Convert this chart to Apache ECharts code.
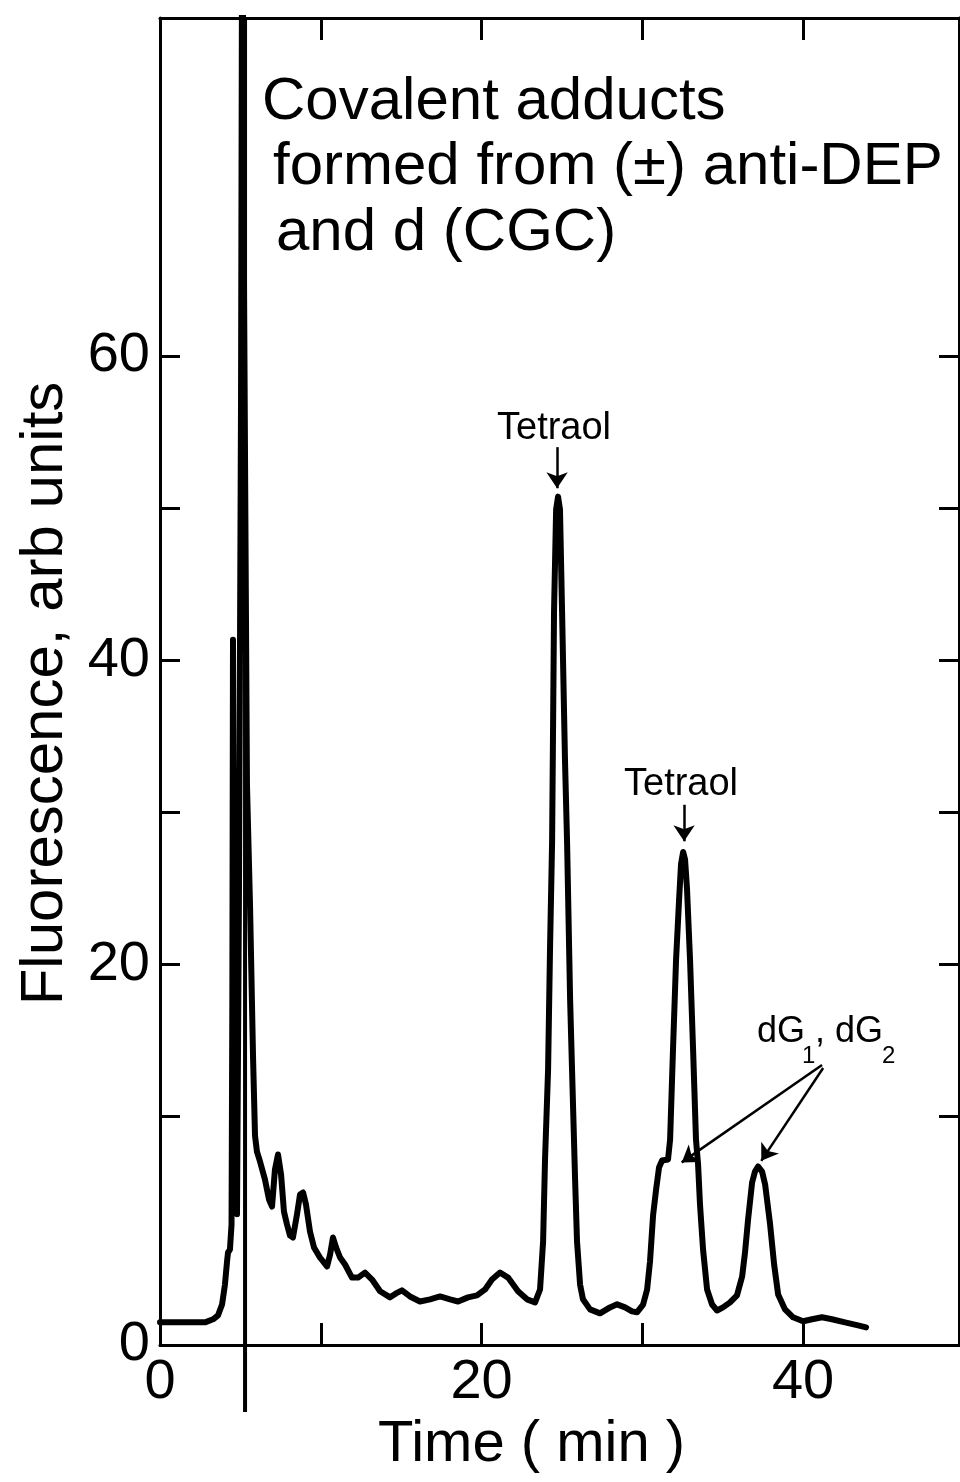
<!DOCTYPE html>
<html>
<head>
<meta charset="utf-8">
<script src="https://cdn.jsdelivr.net/npm/echarts@6/dist/echarts.min.js"></script>
<style>
html,body{margin:0;padding:0;background:#fff;}
#chart{width:960px;height:1482px;}
</style>
</head>
<body>
<div id="chart"></div>
<script>
// ---- data ----
const time = [0,2.80,3.30,3.61,3.86,4.04,4.17,4.23,4.35,4.45,
  4.50,4.54,4.60,4.73,4.79,4.91,5.04,5.12,5.23,5.41,
  5.60,5.79,5.91,6.03,6.22,6.53,6.78,6.97,7.15,7.34,
  7.53,7.71,7.90,8.09,8.27,8.52,8.71,8.90,9.08,9.33,
  9.58,9.95,10.39,10.58,10.76,10.95,11.20,11.51,11.94,12.32,
  12.75,13.19,13.69,14.31,14.68,15.05,15.55,16.17,16.80,17.42,
  18.04,18.54,19.16,19.72,20.22,20.65,21.15,21.65,22.27,22.83,
  23.33,23.64,23.83,23.95,24.14,24.26,24.39,24.51,24.64,24.76,
  24.88,25.01,25.19,25.32,25.51,25.63,25.82,25.94,26.13,26.31,
  26.75,27.37,27.99,28.43,28.93,29.36,29.67,30.05,30.30,30.48,
  30.67,30.86,31.04,31.23,31.60,31.73,31.91,32.10,32.29,32.41,
  32.54,32.66,32.78,32.97,33.16,33.34,33.47,33.59,33.78,34.03,
  34.34,34.65,35.02,35.46,35.89,36.21,36.39,36.58,36.83,37.01,
  37.20,37.45,37.64,37.95,38.20,38.45,38.88,39.38,40.0,40.56,
  41.18,41.80,42.61,43.42,43.92];
const fluorescence = [-3.51,-3.51,-3.31,-3.05,-2.34,-1.03,0.49,1.08,1.27,2.92,
  17.7,41.35,24.3,4.56,3.6,24.3,57.1,95,63.7,31.8,
  23.9,13.8,8.76,7.71,7.06,5.87,4.56,4.10,6.53,7.52,
  6.2,3.77,2.92,2.19,2.06,3.57,4.89,5.02,4.23,2.45,
  1.41,0.75,0.16,0.95,2.06,1.41,0.75,0.29,-0.57,-0.57,
  -0.24,-0.70,-1.47,-1.87,-1.61,-1.41,-1.81,-2.14,-2.0,-1.81,
  -2.0,-2.14,-1.87,-1.74,-1.35,-0.70,-0.24,-0.57,-1.47,-2.0,
  -2.2,-1.35,1.80,7.19,13.1,21.0,28.1,43.2,49.9,50.75,
  49.9,43.2,33.5,28.1,17.7,13.1,5.87,1.80,-1.03,-2.0,
  -2.66,-2.92,-2.53,-2.33,-2.53,-2.79,-2.85,-2.34,-1.35,0.49,
  3.51,5.22,6.66,7.12,7.19,8.5,14.4,20.3,24.3,26.6,
  27.4,26.9,25.0,20.3,14.4,8.5,6.86,4.23,1.27,-1.35,
  -2.34,-2.73,-2.53,-2.2,-1.74,-0.50,1.08,3.25,5.68,6.40,
  6.73,6.40,5.55,2.92,0.29,-1.68,-2.66,-3.18,-3.44,-3.31,
  -3.18,-3.31,-3.51,-3.71,-3.84];
// injection marker (vertical line crossing the frame)
const markerTime = [5.29, 5.29];
const markerValue = [82.2, -9.4];
// axis ticks and labels
const xTicks = [10, 20, 30, 40];
const xLabels = [0, 20, 40];
const yTicks = [10, 20, 30, 40, 50, 60];
const yLabels = [-5, 20, 40, 60];
// annotation arrows: [start, end] in data coordinates
const arrows = [
  [[24.7, 54.0], [24.7, 51.3]],
  [[32.6, 30.5], [32.6, 28.1]],
  [[41.18, 13.4], [32.45, 7.0]],
  [[41.25, 13.2], [37.4, 7.1]]
];
const titleLines = ['Covalent adducts', 'formed from (±) anti-DEP', 'and d (CGC)'];

const FONT = '"Liberation Sans", Arial, sans-serif';
const chart = echarts.init(document.getElementById('chart'), null, {renderer: 'canvas'});
const axisLine = {show: true, onZero: false, lineStyle: {color: '#000', width: 3}};

chart.setOption({
  animation: false,
  backgroundColor: '#fff',
  grid: {left: 160, right: 1, top: 18, bottom: 137},
  xAxis: [{
    type: 'value', position: 'bottom', min: 0, max: 49.7,
    axisLine: axisLine,
    axisTick: {show: true, inside: true, length: 22, customValues: xTicks, lineStyle: {color: '#000', width: 3}},
    axisLabel: {show: true, customValues: xLabels, margin: 10, fontSize: 56, color: '#000', fontFamily: FONT},
    splitLine: {show: false},
    name: 'Time ( min )', nameLocation: 'middle', nameGap: 62,
    nameTextStyle: {fontSize: 58, color: '#000', fontFamily: FONT, padding: [0, 56, 0, 0]}
  }, {
    type: 'value', position: 'top', min: 0, max: 49.7,
    axisLine: axisLine,
    axisTick: {show: true, inside: true, length: 22, customValues: xTicks, lineStyle: {color: '#000', width: 3}},
    axisLabel: {show: false}, splitLine: {show: false}
  }],
  yAxis: [{
    type: 'value', position: 'left', min: -5, max: 82.2,
    axisLine: axisLine,
    axisTick: {show: true, inside: true, length: 20, customValues: yTicks, lineStyle: {color: '#000', width: 3}},
    axisLabel: {show: true, customValues: yLabels, margin: 10, fontSize: 56, color: '#000', fontFamily: FONT,
      formatter: function (v) { return v === -5 ? '0' : String(v); }},
    splitLine: {show: false},
    name: 'Fluorescence, arb units', nameLocation: 'middle', nameGap: 85,
    nameTextStyle: {fontSize: 60, color: '#000', fontFamily: FONT, padding: [0, 24, 0, 0]}
  }, {
    type: 'value', position: 'right', min: -5, max: 82.2,
    axisLine: axisLine,
    axisTick: {show: true, inside: true, length: 20, customValues: yTicks, lineStyle: {color: '#000', width: 3}},
    axisLabel: {show: false}, splitLine: {show: false}
  }],
  series: [{
    type: 'line',
    data: time.map(function (t, i) { return [t, fluorescence[i]]; }),
    showSymbol: false, symbol: 'none', clip: true, silent: true,
    lineStyle: {color: '#000', width: 6, join: 'round', cap: 'round'},
    markLine: {
      silent: true, symbol: ['none', 'arrow'], symbolSize: 16,
      label: {show: false},
      lineStyle: {color: '#000', width: 2.5, type: 'solid'},
      data: arrows.map(function (a) { return [{coord: a[0]}, {coord: a[1]}]; })
    }
  }, {
    type: 'line',
    data: markerTime.map(function (t, i) { return [t, markerValue[i]]; }),
    showSymbol: false, symbol: 'none', clip: false, silent: true,
    lineStyle: {color: '#000', width: 4}
  }],
  graphic: [
    {type: 'text', left: 262, top: 72, style: {text: titleLines[0], font: '60px ' + FONT, fill: '#000'}},
    {type: 'text', left: 273, top: 137, style: {text: titleLines[1], font: '60px ' + FONT, fill: '#000'}},
    {type: 'text', left: 276, top: 203, style: {text: titleLines[2], font: '60px ' + FONT, fill: '#000'}},
    {type: 'text', left: 497, top: 410, style: {text: 'Tetraol', font: '38px ' + FONT, fill: '#000'}},
    {type: 'text', left: 624, top: 766, style: {text: 'Tetraol', font: '38px ' + FONT, fill: '#000'}},
    {type: 'text', left: 757, top: 1014, style: {text: 'dG', font: '36px ' + FONT, fill: '#000'}},
    {type: 'text', left: 802, top: 1044, style: {text: '1', font: '24px ' + FONT, fill: '#000'}},
    {type: 'text', left: 815, top: 1014, style: {text: ',', font: '36px ' + FONT, fill: '#000'}},
    {type: 'text', left: 835, top: 1014, style: {text: 'dG', font: '36px ' + FONT, fill: '#000'}},
    {type: 'text', left: 882, top: 1044, style: {text: '2', font: '24px ' + FONT, fill: '#000'}}
  ]
});
</script>
</body>
</html>
